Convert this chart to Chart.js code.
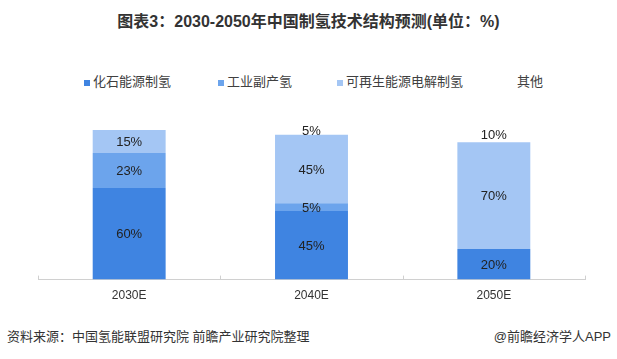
<!DOCTYPE html>
<html>
<head>
<meta charset="utf-8">
<script src="https://cdn.jsdelivr.net/npm/chart.js@4/dist/chart.umd.min.js"></script>
<style>
  html, body { margin: 0; padding: 0; background: #fff; }
  body { width: 617px; height: 359px; position: relative; overflow: hidden;
         font-family: "Liberation Sans", "Noto Sans CJK SC", sans-serif; }
  #title { position: absolute; left: 0; width: 617px; top: 12px; text-align: center;
           font-size: 16px; font-weight: bold; color: #333; line-height: 20px; }
  #legend { position: absolute; top: 73px; left: 0; height: 18px; width: 617px; }
  .li { position: absolute; top: 0; font-size: 13px; color: #404040; line-height: 18px; white-space: nowrap; }
  .sw { position: absolute; top: 7px; width: 6px; height: 6px; }
  #src { position: absolute; left: 7px; top: 328px; font-size: 13px; color: #333; line-height: 18px; }
  #brand { position: absolute; right: 6px; top: 328px; font-size: 13px; color: #333; line-height: 18px; }
  canvas { position: absolute; left: 0; top: 0; }
</style>
</head>
<body>
<div id="title">图表3：2030-2050年中国制氢技术结构预测(单位：%)</div>
<div id="legend"></div>
<div id="src">资料来源：中国氢能联盟研究院 前瞻产业研究院整理</div>
<div id="brand">@前瞻经济学人APP</div>
<div style="position:absolute;left:0;top:0;width:617px;height:359px;"><canvas id="c"></canvas></div>
<script>
const categories = ['2030E', '2040E', '2050E'];
const seriesNames = ['化石能源制氢', '工业副产氢', '可再生能源电解制氢', '其他'];
const fossil = [60, 45, 20];
const byproduct = [23, 5, null];
const renewable = [15, 45, 70];
const other = [null, 5, 10];
const colors = ['#3f84e1', '#6ca4ec', '#a4c6f4', 'rgba(255,255,255,0)'];

// HTML legend
const legendPos = [84, 218, 337, 508];
const legendEl = document.getElementById('legend');
seriesNames.forEach((n, i) => {
  const sw = document.createElement('div');
  sw.className = 'sw';
  sw.style.left = legendPos[i] + 'px';
  sw.style.background = colors[i];
  legendEl.appendChild(sw);
  const t = document.createElement('div');
  t.className = 'li';
  t.style.left = (legendPos[i] + 9) + 'px';
  t.textContent = n;
  legendEl.appendChild(t);
});

const labelPlugin = {
  id: 'segLabels',
  afterDatasetsDraw(chart) {
    const ctx = chart.ctx;
    ctx.save();
    ctx.font = '13px "Liberation Sans", "Noto Sans CJK SC", sans-serif';
    ctx.fillStyle = '#222';
    ctx.textAlign = 'center';
    ctx.textBaseline = 'middle';
    chart.data.datasets.forEach((ds, di) => {
      const meta = chart.getDatasetMeta(di);
      meta.data.forEach((bar, i) => {
        const v = ds.data[i];
        if (v === null || v === undefined || v === 0) return;
        const y = (bar.y + bar.base) / 2;
        ctx.fillText(v + '%', bar.x, y + 1);
      });
    });
    ctx.restore();
  }
};

const tickPlugin = {
  id: 'innerTicks',
  afterDraw(chart) {
    const xs = chart.scales.x;
    const ctx = chart.ctx;
    const bottom = chart.chartArea.bottom;
    ctx.save();
    ctx.strokeStyle = '#d0d0d0';
    ctx.lineWidth = 1;
    for (let i = 0; i <= categories.length; i++) {
      const x = Math.round(xs.getPixelForValue(i - 0.5)) + 0.5;
      ctx.beginPath();
      ctx.moveTo(x, bottom - 4);
      ctx.lineTo(x, bottom);
      ctx.stroke();
    }
    ctx.restore();
  }
};

const datasets = [fossil, byproduct, renewable, other].map((d, i) => ({
  label: seriesNames[i],
  data: d,
  backgroundColor: colors[i],
  borderWidth: 0,
  categoryPercentage: 1,
  barPercentage: 0.4
}));

new Chart(document.getElementById('c'), {
  type: 'bar',
  data: { labels: categories, datasets },
  options: {
    responsive: true,
    maintainAspectRatio: false,
    animation: false,
    layout: { padding: { top: 127, left: 38, right: 32, bottom: 55 } },
    plugins: { legend: { display: false }, title: { display: false }, tooltip: { enabled: false } },
    scales: {
      x: {
        stacked: true,
        grid: { display: false },
        border: { display: true, color: '#d0d0d0', width: 1 },
        ticks: { color: '#333', padding: 1, font: { size: 12, family: '"Liberation Sans", "Noto Sans CJK SC", sans-serif' } }
      },
      y: { stacked: true, display: false, min: 0, max: 100 }
    }
  },
  plugins: [labelPlugin, tickPlugin]
});
</script>
</body>
</html>
